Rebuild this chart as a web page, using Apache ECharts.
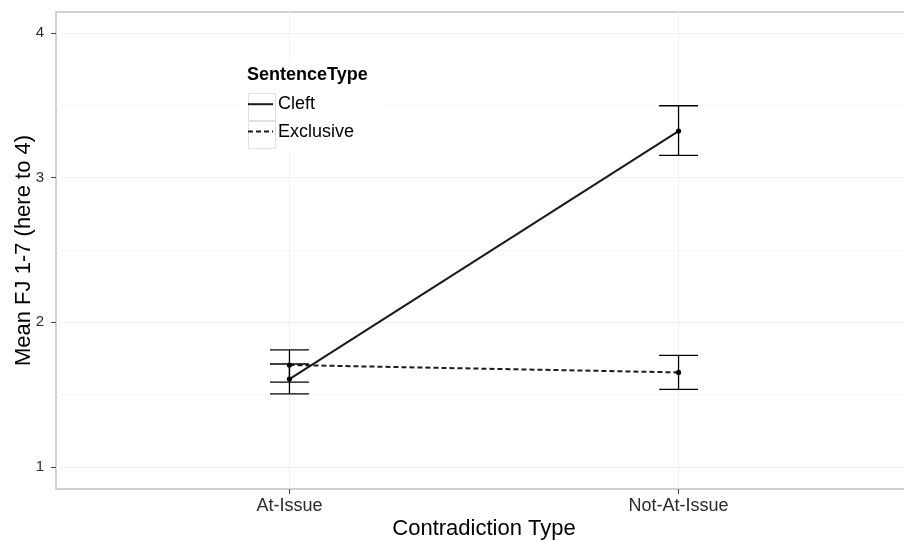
<!DOCTYPE html>
<html><head><meta charset="utf-8">
<script src="https://cdn.jsdelivr.net/npm/echarts@6/dist/echarts.min.js"></script>
<style>html,body{margin:0;padding:0;background:#fff}#c{width:904px;height:540px}</style>
</head><body><div id="c"></div>
<script>
const categories = ['At-Issue', 'Not-At-Issue'];
const xPositions = [1, 2];
const cleftMean = [1.608, 3.322];
const cleftLower = [1.505, 3.154];
const cleftUpper = [1.712, 3.497];
const exclusiveMean = [1.705, 1.654];
const exclusiveLower = [1.587, 1.537];
const exclusiveUpper = [1.809, 1.772];
const yTickValues = [1, 2, 3, 4];
const yMinorValues = [1.5, 2.5, 3.5];
const seriesNames = ['Cleft', 'Exclusive'];

const FONT = 'Liberation Sans, Arial, sans-serif';
const chart = echarts.init(document.getElementById('c'), null, {renderer: 'canvas'});

function errData(mean, lo, hi) {
  return xPositions.map((x, i) => [x, lo[i], hi[i], mean[i]]);
}
function renderErr(params, api) {
  const x = api.value(0), lo = api.value(1), hi = api.value(2), m = api.value(3);
  const pLo = api.coord([x, lo]), pHi = api.coord([x, hi]), pM = api.coord([x, m]);
  const half = api.size([0.05, 0])[0];
  const st = {stroke: '#000', lineWidth: 1.3};
  return {type: 'group', children: [
    {type: 'line', shape: {x1: pLo[0], y1: pLo[1], x2: pHi[0], y2: pHi[1]}, style: st},
    {type: 'line', shape: {x1: pLo[0] - half, y1: pLo[1], x2: pLo[0] + half, y2: pLo[1]}, style: st},
    {type: 'line', shape: {x1: pHi[0] - half, y1: pHi[1], x2: pHi[0] + half, y2: pHi[1]}, style: st},
    {type: 'circle', shape: {cx: pM[0], cy: pM[1], r: 2.6}, style: {fill: '#000'}, z2: 10}
  ]};
}

const gridLines = [].concat(
  yTickValues.map(v => ({yAxis: v, lineStyle: {color: '#efefef', width: 1, type: 'solid'}})),
  yMinorValues.map(v => ({yAxis: v, lineStyle: {color: '#f7f7f7', width: 1, type: 'solid'}})),
  xPositions.map(v => ({xAxis: v, lineStyle: {color: '#efefef', width: 1, type: 'solid'}}))
);

const option = {
  animation: false,
  backgroundColor: '#fff',
  grid: {left: 56, top: 12, bottom: 51, right: -8, outerBoundsMode: 'none', containLabel: false,
    show: true, borderColor: '#c2c2c2', borderWidth: 1.5, backgroundColor: 'transparent'},
  xAxis: {
    type: 'value', min: 0.4, max: 2.6, splitNumber: 2,
    name: 'Contradiction Type', nameLocation: 'middle', nameGap: 29, nameMoveOverlap: false,
    nameTextStyle: {fontFamily: FONT, fontSize: 22, color: '#000'},
    axisLine: {show: false},
    axisTick: {show: true, length: 5, lineStyle: {color: '#444', width: 1}, customValues: xPositions},
    axisLabel: {fontFamily: FONT, fontSize: 18, color: '#2b2b2b', margin: 8,
      customValues: xPositions,
      formatter: v => { const i = xPositions.indexOf(Math.round(v * 1000) / 1000); return i >= 0 ? categories[i] : ''; }},
    splitLine: {show: false}
  },
  yAxis: {
    type: 'value', min: 0.848, max: 4.145, splitNumber: 3,
    name: 'Mean FJ 1-7 (here to 4)', nameLocation: 'middle', nameGap: 21, nameMoveOverlap: false,
    nameTextStyle: {fontFamily: FONT, fontSize: 22, color: '#000'},
    axisLine: {show: false},
    axisTick: {show: true, length: 5, lineStyle: {color: '#444', width: 1}, customValues: yTickValues},
    axisLabel: {fontFamily: FONT, fontSize: 15, color: '#2b2b2b', margin: 12,
      customValues: yTickValues,
      formatter: v => String(v)},
    splitLine: {show: false}
  },
  legend: {
    data: seriesNames, orient: 'vertical', left: 247, top: 93, itemGap: 5, padding: 0,
    itemWidth: 25, itemHeight: 28,
    itemStyle: {color: 'transparent', borderWidth: 0, opacity: 0},
    textStyle: {fontFamily: FONT, fontSize: 18, color: '#000', padding: 0},
    selectedMode: false, z: 6
  },
  graphic: [
    {type: 'rect', left: 241, top: 61, shape: {width: 142, height: 91}, style: {fill: '#fff', stroke: 'none'}, z: 2},
    {type: 'rect', left: 246, top: 91, shape: {width: 27, height: 27}, style: {fill: 'none', stroke: '#e0e0e0', lineWidth: 1}, z: 3},
    {type: 'rect', left: 246, top: 119, shape: {width: 27, height: 27}, style: {fill: 'none', stroke: '#e0e0e0', lineWidth: 1}, z: 3},
    {type: 'text', left: 247, top: 66, style: {text: 'SentenceType', font: 'bold 18px ' + FONT, fill: '#000'}, z: 3}
  ],
  series: [
    {name: 'gridlines', type: 'line', data: [], silent: true, z: 0,
      markLine: {silent: true, z: 0, symbol: ['none', 'none'], label: {show: false}, animation: false, data: gridLines}},
    {name: 'Cleft', type: 'line', data: xPositions.map((x, i) => [x, cleftMean[i]]), symbol: 'none',
      lineStyle: {color: '#1a1a1a', width: 2, type: 'solid'}, itemStyle: {color: '#1a1a1a'}, z: 3},
    {name: 'Exclusive', type: 'line', data: xPositions.map((x, i) => [x, exclusiveMean[i]]), symbol: 'none',
      lineStyle: {color: '#1a1a1a', width: 2, type: [5, 3]}, itemStyle: {color: '#1a1a1a'}, z: 3},
    {name: 'CleftErr', type: 'custom', renderItem: renderErr, data: errData(cleftMean, cleftLower, cleftUpper),
      encode: {x: 0, y: [1, 2, 3]}, z: 4},
    {name: 'ExclusiveErr', type: 'custom', renderItem: renderErr, data: errData(exclusiveMean, exclusiveLower, exclusiveUpper),
      encode: {x: 0, y: [1, 2, 3]}, z: 4}
  ]
};
chart.setOption(option);
</script></body></html>
